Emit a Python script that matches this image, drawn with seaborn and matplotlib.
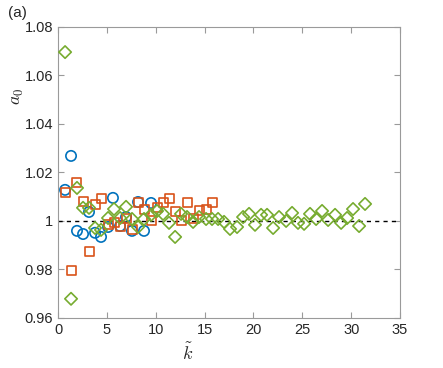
import numpy as np
import pandas as pd
import matplotlib
matplotlib.use("Agg")
import matplotlib.pyplot as plt
import seaborn as sns

# ---- data ----
k_blue = [0.72, 1.33, 1.94, 2.56, 3.17, 3.79, 4.40, 5.12, 5.62, 6.35, 6.96, 7.57, 8.19, 8.80, 9.52]
a_blue = [1.0128, 1.0268, 0.9959, 0.9946, 1.0037, 0.9951, 0.9934, 0.9975, 1.0095,
          0.9979, 1.0016, 0.9959, 1.0078, 0.9959, 1.0074]

k_orange = [0.72, 1.33, 1.94, 2.56, 3.17, 3.79, 4.40, 5.12, 5.73, 6.35, 6.96, 7.57, 8.19,
            8.80, 9.52, 10.13, 10.75, 11.36, 11.98, 12.59, 13.20, 13.82, 14.43, 15.15, 15.76]
a_orange = [1.0119, 0.9794, 1.0157, 1.0082, 0.9876, 1.0066, 1.0091, 0.9984, 0.9992, 0.9975,
            1.0012, 0.9963, 1.0078, 1.0049, 1.0000, 1.0054, 1.0074, 1.0091, 1.0037, 1.0000,
            1.0074, 1.0012, 1.0041, 1.0049, 1.0078]

k_green = [0.72, 1.33, 1.94, 2.56, 3.17, 3.79, 4.40, 5.12, 5.73, 6.35, 6.96, 7.57, 8.19,
           8.80, 9.52, 10.13, 10.75, 11.36, 11.98, 12.59, 13.20, 13.82, 14.43, 15.15, 15.76,
           16.38, 16.99, 17.60, 18.32, 18.94, 19.55, 20.16, 20.78, 21.39, 22.01, 22.62, 23.34,
           23.95, 24.56, 25.18, 25.79, 26.41, 27.02, 27.64, 28.35, 28.97, 29.58, 30.19, 30.81, 31.42]
a_green = [1.0696, 0.9679, 1.0136, 1.0054, 1.0054, 0.9971, 0.9963, 1.0012, 1.0049, 1.0012,
           1.0058, 1.0008, 0.9975, 1.0008, 1.0025, 1.0041, 1.0029, 0.9992, 0.9934, 1.0029,
           1.0016, 0.9996, 1.0016, 1.0008, 1.0008, 1.0008, 0.9996, 0.9967, 0.9975, 1.0016,
           1.0029, 0.9984, 1.0025, 1.0025, 0.9971, 1.0016, 1.0000, 1.0033, 0.9992, 0.9988,
           1.0029, 1.0008, 1.0041, 1.0004, 1.0025, 0.9992, 1.0012, 1.0049, 0.9979, 1.0070]

x_ticks = [0, 5, 10, 15, 20, 25, 30, 35]
y_ticks = [0.96, 0.98, 1.00, 1.02, 1.04, 1.06, 1.08]
y_tick_labels = ["0.96", "0.98", "1", "1.02", "1.04", "1.06", "1.08"]

# ---- style ----
sns.set_style("white")
plt.rcParams["font.family"] = ["Liberation Sans", "DejaVu Sans"]
plt.rcParams["mathtext.fontset"] = "cm"

fig = plt.figure(figsize=(4.43, 3.68), dpi=100)
ax = fig.add_axes([0.131, 0.136, 0.772, 0.791])

series = [
    (k_blue, a_blue, "o", "#0072BD", 55),
    (k_orange, a_orange, "s", "#D95319", 42),
    (k_green, a_green, "D", "#77AC30", 40),
]
for kx, ay, mk, col, sz in series:
    df = pd.DataFrame({"k": kx, "a": ay})
    sns.scatterplot(data=df, x="k", y="a", marker=mk, s=sz, ax=ax,
                    facecolor="none", edgecolor=col, linewidth=1.2, zorder=3)

ax.axhline(1.0, color="black", linestyle=(0, (3, 3)), linewidth=1.0, zorder=2)

ax.set_xlim(0, 35)
ax.set_ylim(0.96, 1.08)
ax.set_xticks(x_ticks)
ax.set_yticks(y_ticks)
ax.set_yticklabels(y_tick_labels)

for sp in ax.spines.values():
    sp.set_visible(True)
    sp.set_color("#9a9a9a")
    sp.set_linewidth(0.8)
ax.tick_params(direction="in", length=4, width=0.8, color="#9a9a9a",
               labelsize=10.5, labelcolor="#262626", top=True, right=True,
               bottom=True, left=True)

ax.set_xlabel(r"$\tilde{k}$", fontsize=13, color="#262626")
ax.set_ylabel(r"$a_0$", fontsize=13, color="#262626", rotation=90)
ax.xaxis.set_label_coords(0.38, -0.085)
ax.yaxis.set_label_coords(-0.095, 0.76)

fig.text(0.018, 0.985, "(a)", fontsize=11, color="#262626", ha="left", va="top")

fig.savefig("out.png", dpi=100)
